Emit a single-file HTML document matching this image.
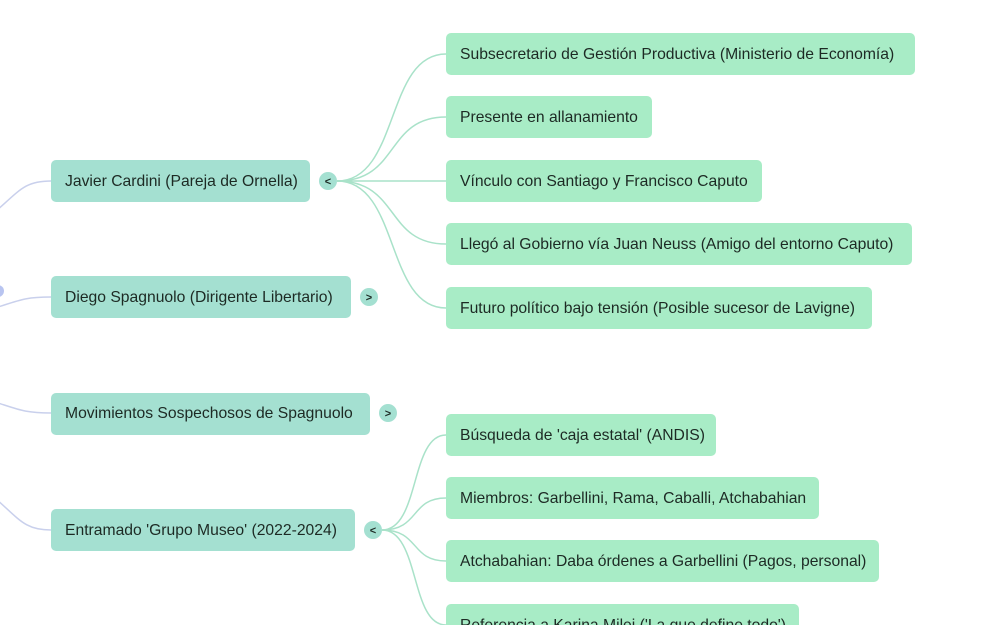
<!DOCTYPE html>
<html><head><meta charset="utf-8"><style>
body{margin:0;background:#fff;width:1000px;height:625px;overflow:hidden;font-family:"Liberation Sans",sans-serif}
</style></head><body>
<svg width="1000" height="625" xmlns="http://www.w3.org/2000/svg" style="position:absolute;left:0;top:0">
<g fill="none" stroke="#c9d0ec" stroke-width="1.5">
<path d="M-5,212 C20,190 25,181 51,181"/>
<path d="M-5,308 C20,300 25,297 51,297"/>
<path d="M-5,402 C20,410 25,413 51,413"/>
<path d="M-5,498 C20,520 25,530 51,530"/>
</g>
<circle cx="-2" cy="291" r="6" fill="#b8c4f0"/>
<g fill="none" stroke="#a9e2c9" stroke-width="1.5">
<path d="M337,181 C400,181 385,54 446,54"/>
<path d="M337,181 C400,181 385,117 446,117"/>
<path d="M337,181 L446,181"/>
<path d="M337,181 C400,181 385,244 446,244"/>
<path d="M337,181 C400,181 385,308 446,308"/>
<path d="M382,530 C420,530 410,435 446,435"/>
<path d="M382,530 C420,530 410,498 446,498"/>
<path d="M382,530 C420,530 410,561 446,561"/>
<path d="M382,530 C420,530 410,625 446,625"/>
</g>
<g fill="#a4e0d1">
<rect x="51" y="160" width="259" height="42" rx="5"/>
<rect x="51" y="276" width="300" height="42" rx="5"/>
<rect x="51" y="393" width="319" height="42" rx="5"/>
<rect x="51" y="509" width="304" height="42" rx="5"/>
<circle cx="328" cy="181" r="9"/>
<circle cx="369" cy="297" r="9"/>
<circle cx="388" cy="413" r="9"/>
<circle cx="373" cy="530" r="9"/>
</g>
<g fill="#a8ecc6">
<rect x="446" y="33" width="469" height="42" rx="5"/>
<rect x="446" y="96" width="206" height="42" rx="5"/>
<rect x="446" y="160" width="316" height="42" rx="5"/>
<rect x="446" y="223" width="466" height="42" rx="5"/>
<rect x="446" y="287" width="426" height="42" rx="5"/>
<rect x="446" y="414" width="270" height="42" rx="5"/>
<rect x="446" y="477" width="373" height="42" rx="5"/>
<rect x="446" y="540" width="433" height="42" rx="5"/>
<rect x="446" y="604" width="353" height="42" rx="5"/>
</g>
<g font-family="Liberation Sans, sans-serif" font-size="15.7" fill="#1d2a24">
<text x="65" y="186">Javier Cardini (Pareja de Ornella)</text>
<text x="65" y="302">Diego Spagnuolo (Dirigente Libertario)</text>
<text x="65" y="418">Movimientos Sospechosos de Spagnuolo</text>
<text x="65" y="535">Entramado 'Grupo Museo' (2022-2024)</text>
<text x="460" y="59">Subsecretario de Gestión Productiva (Ministerio de Economía)</text>
<text x="460" y="122">Presente en allanamiento</text>
<text x="460" y="186">Vínculo con Santiago y Francisco Caputo</text>
<text x="460" y="249">Llegó al Gobierno vía Juan Neuss (Amigo del entorno Caputo)</text>
<text x="460" y="313">Futuro político bajo tensión (Posible sucesor de Lavigne)</text>
<text x="460" y="440">Búsqueda de 'caja estatal' (ANDIS)</text>
<text x="460" y="503">Miembros: Garbellini, Rama, Caballi, Atchabahian</text>
<text x="460" y="566">Atchabahian: Daba órdenes a Garbellini (Pagos, personal)</text>
<text x="460" y="630">Referencia a Karina Milei ('La que define todo')</text>
</g>
<g font-family="Liberation Sans, sans-serif" font-size="11" font-weight="bold" fill="#1d2a24" text-anchor="middle">
<text x="328" y="185">&lt;</text>
<text x="369" y="301">&gt;</text>
<text x="388" y="417">&gt;</text>
<text x="373" y="534">&lt;</text>
</g>
</svg>
</body></html>
